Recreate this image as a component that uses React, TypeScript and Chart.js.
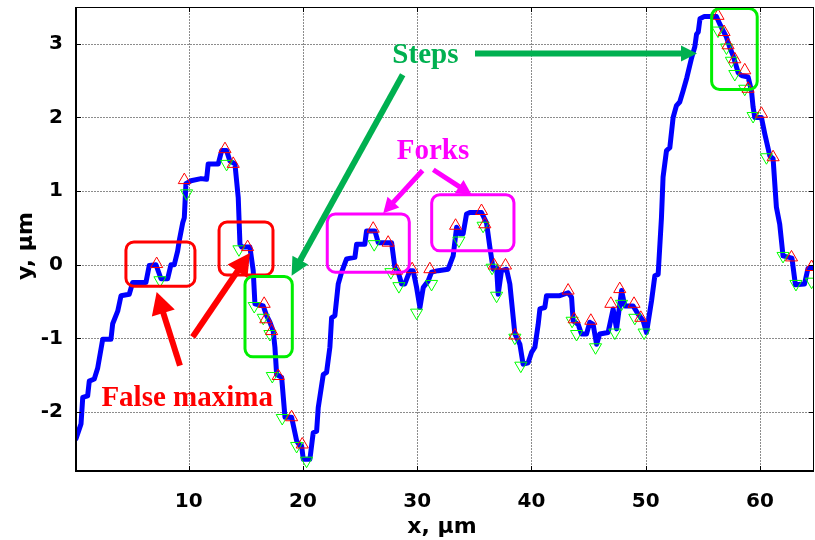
import { useEffect, useRef } from "react";
import { Chart, registerables } from "chart.js";

Chart.register(...registerables);

// ---- profile line (x in µm, y in µm) ----
const lineX = [
  0.14, 0.58, 0.73, 1.16, 1.3, 1.74, 2.04, 2.48, 3.2, 3.35, 3.79, 4.08, 4.8, 5.1, 6.26, 6.55, 7.14, 7.58, 8.16,
  8.45, 8.74, 9.04, 9.18, 9.48, 9.62, 9.76, 10.2, 11.08, 11.57, 11.71, 12.59, 12.89, 13.32, 13.61, 14.05, 14.34,
  14.49, 14.64, 15.36, 15.65, 15.8, 16.53, 16.82, 17.11, 17.4, 17.55, 17.7, 18.14, 18.43, 19.01, 19.45, 19.74,
  19.89, 20.03, 20.61, 20.9, 21.2, 21.34, 21.78, 22.07, 22.36, 22.51, 22.8, 23.09, 23.39, 23.82, 24.55, 24.7,
  25.42, 25.57, 26.3, 26.59, 27.76, 28.05, 28.34, 28.64, 28.92, 29.36, 29.65, 29.95, 30.24, 30.53, 30.96, 31.26,
  31.84, 32.71, 33.15, 33.45, 33.74, 34.02, 34.32, 34.61, 35.63, 36.07, 36.36, 36.65, 36.95, 37.09, 37.38, 37.82,
  38.11, 38.55, 38.99, 39.27, 39.71, 40.01, 40.3, 40.59, 40.74, 41.17, 41.32, 42.48, 43.21, 43.51, 43.65, 44.09,
  44.38, 44.82, 45.11, 45.4, 45.7, 45.98, 46.71, 47.15, 47.45, 47.89, 48.17, 48.9, 49.34, 49.78, 50.07, 50.51,
  50.8, 51.09, 51.38, 51.52, 51.82, 52.11, 52.4, 52.69, 52.98, 53.27, 53.6, 54.0, 54.3, 54.45, 54.6, 54.75, 55.1,
  56.19, 56.48, 56.77, 57.07, 57.36, 57.65, 58.09, 58.38, 58.96, 59.26, 59.4, 59.55, 60.13, 60.42, 60.86, 61.15,
  61.44, 61.73, 62.02, 62.8, 63.1, 63.9, 64.2, 64.73,
];
const lineY = [
  -2.36, -2.16, -1.8, -1.78, -1.58, -1.55, -1.4, -1.01, -1.01, -0.8, -0.63, -0.42, -0.4, -0.24, -0.24, -0.01, 0.0,
  -0.19, -0.19, 0.0, 0.0, 0.19, 0.33, 0.57, 0.64, 1.1, 1.14, 1.17, 1.16, 1.37, 1.37, 1.55, 1.55, 1.41, 1.37, 0.91,
  0.28, 0.24, 0.24, -0.08, -0.53, -0.56, -0.69, -0.78, -0.9, -1.12, -1.49, -1.53, -2.07, -2.07, -2.39, -2.46,
  -2.46, -2.64, -2.64, -2.28, -2.26, -1.94, -1.49, -1.46, -1.12, -0.72, -0.69, -0.26, -0.1, 0.08, 0.1, 0.28, 0.28,
  0.46, 0.46, 0.3, 0.3, -0.04, -0.1, -0.26, -0.26, -0.08, -0.08, -0.31, -0.58, -0.31, -0.22, -0.1, -0.08, -0.06,
  0.12, 0.51, 0.42, 0.42, 0.69, 0.71, 0.71, 0.57, 0.24, -0.06, -0.04, -0.4, -0.08, -0.06, -0.26, -0.94, -1.08,
  -1.35, -1.33, -1.19, -1.12, -0.81, -0.6, -0.58, -0.42, -0.42, -0.38, -0.44, -0.76, -0.81, -0.94, -0.94, -0.78,
  -0.81, -1.08, -0.94, -0.92, -0.6, -0.87, -0.35, -0.56, -0.56, -0.67, -0.76, -0.92, -0.49, -0.15, -0.13, 0.64,
  1.19, 1.55, 1.59, 2.0, 2.16, 2.21, 2.36, 2.54, 2.8, 2.96, 3.13, 3.16, 3.34, 3.37, 3.37, 3.27, 3.18, 3.09, 2.95,
  2.84, 2.61, 2.57, 2.55, 2.36, 2.14, 2.0, 2.0, 1.78, 1.48, 1.44, 0.78, 0.55, 0.12, 0.09, -0.27, -0.26, -0.05,
  -0.04,
];

// ---- detected maxima (red) and minima (green) ----
const maxX = [
  7.2, 9.62, 13.18, 13.9, 15.16, 16.61, 16.75, 17.26, 17.84, 19.01, 19.94, 26.15, 27.46, 28.2, 29.56, 31.11, 33.36,
  35.63, 35.92, 36.74, 37.73, 38.55, 43.21, 43.74, 45.2, 46.95, 47.73, 48.98, 49.57, 56.33, 56.86, 57.21, 57.8,
  58.67, 58.96, 60.13, 61.15, 62.76, 64.52,
];
const maxY = [
  0.01, 1.15, 1.57, 1.37, 0.24, -0.53, -0.74, -0.9, -1.51, -2.07, -2.44, 0.49, 0.3, -0.08, -0.06, -0.06, 0.53,
  0.73, 0.55, -0.01, -0.01, -0.96, -0.35, -0.74, -0.76, -0.53, -0.33, -0.53, -0.72, 3.38, 3.16, 2.98, 2.79, 2.64,
  2.39, 2.05, 1.46, 0.1, -0.03,
];
const minX = [
  7.49, 9.82, 13.32, 14.4, 15.74, 16.53, 17.11, 17.32, 18.19, 19.45, 20.32, 26.24, 27.7, 28.4, 29.95, 31.26, 33.65,
  35.77, 36.56, 36.95, 38.55, 39.07, 43.56, 43.95, 45.61, 47.3, 47.88, 49.05, 49.86, 56.33, 57.07, 57.5, 57.8,
  58.67, 59.4, 60.57, 62.02, 63.15, 64.52,
];
const minY = [
  -0.21, 0.97, 1.37, 0.21, -0.56, -0.72, -0.94, -1.51, -2.08, -2.46, -2.66, 0.28, -0.1, -0.29, -0.65, -0.26, 0.33,
  0.53, -0.04, -0.42, -0.99, -1.37, -0.76, -0.94, -1.12, -0.92, -0.53, -0.72, -0.92, 3.18, 2.95, 2.77, 2.59, 2.39,
  2.02, 1.46, 0.12, -0.26, -0.23,
];

const xTicks = [10, 20, 30, 40, 50, 60];
const yTicks = [-2, -1, 0, 1, 2, 3];
const xTitle = "x, \u03bcm";
const yTitle = "y, \u03bcm";

// ---- annotations (data coordinates) ----
const boxes = [
  { x0: 4.51, y0: 0.31, x1: 10.55, y1: -0.29, color: "#ff0000" },
  { x0: 12.66, y0: 0.58, x1: 17.38, y1: -0.14, color: "#ff0000" },
  { x0: 14.93, y0: -0.16, x1: 19.07, y1: -1.25, color: "#00ee00" },
  { x0: 55.77, y0: 3.48, x1: 59.76, y1: 2.38, color: "#00ee00" },
  { x0: 22.13, y0: 0.69, x1: 29.31, y1: -0.1, color: "#ff00ff" },
  { x0: 31.27, y0: 0.95, x1: 38.47, y1: 0.19, color: "#ff00ff" },
];
const arrows = [
  { x0: 28.73, y0: 2.58, x1: 19.01, y1: -0.15, color: "#00b050", w: 6, hl: 18, hw: 18 },
  { x0: 35.06, y0: 2.87, x1: 54.49, y1: 2.87, color: "#00b050", w: 6, hl: 16, hw: 16 },
  { x0: 30.47, y0: 1.28, x1: 27.03, y1: 0.7, color: "#ff00ff", w: 5, hl: 15, hw: 16 },
  { x0: 31.41, y0: 1.29, x1: 34.77, y1: 0.95, color: "#ff00ff", w: 5, hl: 15, hw: 16 },
  { x0: 9.24, y0: -1.37, x1: 7.2, y1: -0.37, color: "#ff0000", w: 6, hl: 22, hw: 24 },
  { x0: 10.35, y0: -0.98, x1: 15.36, y1: 0.16, color: "#ff0000", w: 6, hl: 22, hw: 24 },
];
const labels = [
  { text: "Steps", x: 30.72, y: 2.74, color: "#00b050" },
  { text: "Forks", x: 31.38, y: 1.43, color: "#ff00ff" },
  { text: "False maxima", x: 9.87, y: -1.92, color: "#ff0000" },
];

function drawArrow(ctx: CanvasRenderingContext2D, x1: number, y1: number, x2: number, y2: number, color: string, w: number, hl: number, hw: number) {
  const dx = x2 - x1, dy = y2 - y1;
  const len = Math.hypot(dx, dy);
  const ux = dx / len, uy = dy / len;
  const bx = x2 - ux * hl, by = y2 - uy * hl;
  ctx.strokeStyle = color;
  ctx.lineWidth = w;
  ctx.lineCap = "butt";
  ctx.beginPath();
  ctx.moveTo(x1, y1);
  ctx.lineTo(bx + ux * 2, by + uy * 2);
  ctx.stroke();
  ctx.fillStyle = color;
  ctx.beginPath();
  ctx.moveTo(x2, y2);
  ctx.lineTo(bx - (uy * hw) / 2, by + (ux * hw) / 2);
  ctx.lineTo(bx + (uy * hw) / 2, by - (ux * hw) / 2);
  ctx.closePath();
  ctx.fill();
}

const decor = {
  id: "decor",
  beforeDatasetsDraw(chart: any) {
    const { ctx, chartArea: a, scales } = chart;
    const xs = scales.x, ys = scales.y;
    ctx.save();
    ctx.strokeStyle = "#8c8c8c";
    ctx.lineWidth = 1;
    ctx.setLineDash([2, 1]);
    for (const v of xTicks) {
      const p = Math.round(xs.getPixelForValue(v)) + 0.5;
      ctx.beginPath();
      ctx.moveTo(p, a.top);
      ctx.lineTo(p, a.bottom);
      ctx.stroke();
    }
    for (const v of yTicks) {
      const p = Math.round(ys.getPixelForValue(v)) + 0.5;
      ctx.beginPath();
      ctx.moveTo(a.left, p);
      ctx.lineTo(a.right, p);
      ctx.stroke();
    }
    ctx.restore();
  },
  afterDatasetsDraw(chart: any) {
    const { ctx, scales } = chart;
    const xs = scales.x, ys = scales.y;
    ctx.save();
    for (const b of boxes) {
      const l = xs.getPixelForValue(b.x0), r = xs.getPixelForValue(b.x1);
      const t = ys.getPixelForValue(b.y0), bt = ys.getPixelForValue(b.y1);
      ctx.strokeStyle = b.color;
      ctx.lineWidth = 3;
      ctx.beginPath();
      (ctx as any).roundRect(l, t, r - l, bt - t, 8);
      ctx.stroke();
    }
    for (const ar of arrows) {
      drawArrow(
        ctx,
        xs.getPixelForValue(ar.x0), ys.getPixelForValue(ar.y0),
        xs.getPixelForValue(ar.x1), ys.getPixelForValue(ar.y1),
        ar.color, ar.w, ar.hl, ar.hw
      );
    }
    ctx.font = 'bold 29px "Liberation Serif", "Times New Roman", serif';
    ctx.textAlign = "center";
    ctx.textBaseline = "alphabetic";
    for (const lb of labels) {
      ctx.fillStyle = lb.color;
      ctx.fillText(lb.text, xs.getPixelForValue(lb.x), ys.getPixelForValue(lb.y));
    }
    ctx.restore();
  },
  afterDraw(chart: any) {
    const { ctx, chartArea: a, scales } = chart;
    const xs = scales.x, ys = scales.y;
    ctx.save();
    ctx.strokeStyle = "#000";
    ctx.lineWidth = 2;
    ctx.beginPath();
    ctx.moveTo(a.left, a.top);
    ctx.lineTo(a.left, a.bottom);
    ctx.lineTo(a.right, a.bottom);
    ctx.stroke();
    ctx.lineWidth = 1;
    ctx.beginPath();
    ctx.moveTo(a.left, a.top + 0.5);
    ctx.lineTo(a.right, a.top + 0.5);
    ctx.moveTo(a.right - 0.5, a.top);
    ctx.lineTo(a.right - 0.5, a.bottom);
    ctx.stroke();
    const tl = 5;
    ctx.beginPath();
    for (const v of xTicks) {
      const p = Math.round(xs.getPixelForValue(v)) + 0.5;
      ctx.moveTo(p, a.bottom);
      ctx.lineTo(p, a.bottom - tl);
      ctx.moveTo(p, a.top);
      ctx.lineTo(p, a.top + tl);
    }
    for (const v of yTicks) {
      const p = Math.round(ys.getPixelForValue(v)) + 0.5;
      ctx.moveTo(a.left, p);
      ctx.lineTo(a.left + tl, p);
      ctx.moveTo(a.right, p);
      ctx.lineTo(a.right - tl, p);
    }
    ctx.stroke();
    ctx.fillStyle = "#000";
    ctx.font = 'bold 22px "DejaVu Sans", sans-serif';
    ctx.textAlign = "center";
    ctx.textBaseline = "alphabetic";
    ctx.fillText(xTitle, (a.left + a.right) / 2 - 3, 533);
    ctx.translate(32, 246);
    ctx.rotate(-Math.PI / 2);
    ctx.fillText(yTitle, 0, 0);
    ctx.restore();
  },
};

export default function App() {
  const ref = useRef<HTMLCanvasElement | null>(null);
  useEffect(() => {
    if (!ref.current) return;
    const tickFont = { family: '"DejaVu Sans", sans-serif', size: 20, weight: "bold" as const };
    const chart = new Chart(ref.current, {
      type: "scatter",
      data: {
        datasets: [
          {
            label: "maxima",
            data: maxX.map((x, i) => ({ x, y: maxY[i] })),
            pointStyle: "triangle",
            pointRadius: 7,
            pointRotation: 0,
            pointBorderColor: "#ff0000",
            pointBackgroundColor: "rgba(0,0,0,0)",
            pointBorderWidth: 1,
            order: 1,
          },
          {
            label: "minima",
            data: minX.map((x, i) => ({ x, y: minY[i] })),
            pointStyle: "triangle",
            pointRadius: 7,
            pointRotation: 180,
            pointBorderColor: "#00ff00",
            pointBackgroundColor: "rgba(0,0,0,0)",
            pointBorderWidth: 1,
            order: 2,
          },
          {
            label: "profile",
            data: lineX.map((x, i) => ({ x, y: lineY[i] })),
            showLine: true,
            borderColor: "#0000ff",
            borderWidth: 5,
            pointRadius: 0,
            tension: 0,
            borderJoinStyle: "round",
            borderCapStyle: "round",
            order: 3,
          } as any,
        ],
      },
      options: {
        animation: false,
        responsive: false,
        devicePixelRatio: 1,
        events: [],
        layout: { autoPadding: false, padding: { top: 7, right: 1, left: 0, bottom: 0 } } as any,
        plugins: { legend: { display: false }, tooltip: { enabled: false } },
        scales: {
          x: {
            type: "linear",
            min: 0.14,
            max: 64.73,
            grid: { display: false },
            border: { display: false },
            afterBuildTicks: (s: any) => {
              s.ticks = xTicks.map((v) => ({ value: v }));
            },
            afterFit: (s: any) => {
              s.height = 69;
              s.paddingLeft = 0;
              s.paddingRight = 0;
              s.paddingTop = 0;
              s.paddingBottom = 0;
            },
            ticks: { color: "#000", font: tickFont, padding: 11, maxRotation: 0, autoSkip: false },
          },
          y: {
            type: "linear",
            min: -2.8,
            max: 3.5,
            grid: { display: false },
            border: { display: false },
            afterBuildTicks: (s: any) => {
              s.ticks = yTicks.map((v) => ({ value: v }));
            },
            afterFit: (s: any) => {
              s.width = 76;
              s.paddingLeft = 0;
              s.paddingRight = 0;
              s.paddingTop = 0;
              s.paddingBottom = 0;
            },
            ticks: { color: "#000", font: tickFont, padding: 5, autoSkip: false },
          },
        },
      },
      plugins: [decor],
    });
    return () => chart.destroy();
  }, []);
  return (
    <div style={{ position: "fixed", left: 0, top: 0, width: 815, height: 540, background: "#fff" }}>
      <canvas ref={ref} width={815} height={540} style={{ display: "block", width: 815, height: 540 }} />
    </div>
  );
}
